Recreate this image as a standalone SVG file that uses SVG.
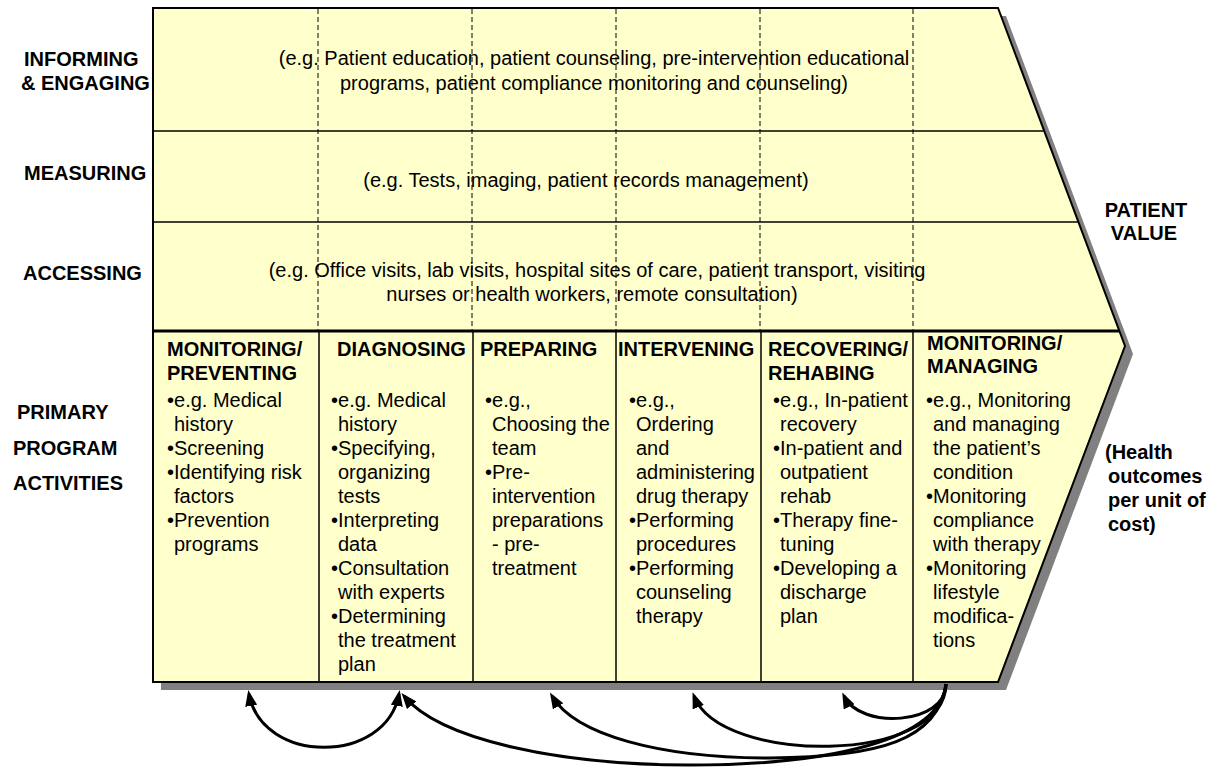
<svg xmlns="http://www.w3.org/2000/svg" width="1215" height="767" viewBox="0 0 1215 767">
<defs>
<style>
text{font-family:"Liberation Sans",Arial,sans-serif;font-size:20px;fill:#000}
.b{font-weight:bold}
.row{stroke:#000;stroke-width:1.5;fill:none}
.dash{stroke:#000;stroke-width:1;stroke-dasharray:5,3;fill:none}
.div{stroke:#000;stroke-width:1.5;fill:none}
.arr{stroke:#000;stroke-width:3;fill:none;marker-end:url(#ah)}
</style>
<marker id="ah" viewBox="0 0 16 12" refX="12" refY="6" markerWidth="16" markerHeight="12" markerUnits="userSpaceOnUse" orient="auto-start-reverse">
<path d="M0,0 L16,6 L0,12 Z" fill="#000"/>
</marker>
</defs>
<rect width="1215" height="767" fill="#fff"/>

<g id="chain-shape">
<polygon points="161,16 1006,16 1133,354 1006,690 161,690" fill="#808080"/>
<polygon points="153,8 998,8 1125,346 998,682 153,682" fill="#FFFFCC" stroke="#000" stroke-width="2"/>
<line class="row" x1="153" y1="131" x2="1045" y2="131"/>
<line class="row" x1="153" y1="222" x2="1078" y2="222"/>
<line class="dash" x1="318" y1="9" x2="318" y2="330"/>
<line class="dash" x1="472" y1="9" x2="472" y2="330"/>
<line class="dash" x1="616" y1="9" x2="616" y2="330"/>
<line class="dash" x1="760" y1="9" x2="760" y2="330"/>
<line class="dash" x1="913" y1="9" x2="913" y2="330"/>
<line x1="153" y1="331" x2="1119" y2="331" stroke="#000" stroke-width="3"/>
<line class="div" x1="319" y1="331" x2="319" y2="682"/>
<line class="div" x1="473" y1="331" x2="473" y2="682"/>
<line class="div" x1="616" y1="331" x2="616" y2="682"/>
<line class="div" x1="761" y1="331" x2="761" y2="682"/>
<line class="div" x1="913" y1="331" x2="913" y2="682"/>
</g>

<g id="support-labels">
<text class="b"><tspan x="24" y="66">INFORMING</tspan><tspan x="21" y="90">&amp; ENGAGING</tspan></text>
<text class="b" x="24" y="180">MEASURING</text>
<text class="b" x="23" y="280">ACCESSING</text>
<text class="b"><tspan x="17" y="419">PRIMARY</tspan><tspan x="13" y="455">PROGRAM</tspan><tspan x="13" y="490">ACTIVITIES</tspan></text>
</g>

<g id="row-informing">
<text text-anchor="middle"><tspan x="594" y="65">(e.g. Patient education, patient counseling, pre-intervention educational</tspan><tspan x="594" y="90">programs, patient compliance monitoring and counseling)</tspan></text>
</g>
<g id="row-measuring">
<text text-anchor="middle" x="586" y="187">(e.g. Tests, imaging, patient records management)</text>
</g>
<g id="row-accessing">
<text text-anchor="middle"><tspan x="597" y="277">(e.g. Office visits, lab visits, hospital sites of care, patient transport, visiting</tspan><tspan x="592" y="301">nurses or health workers, remote consultation)</tspan></text>
</g>

<g id="col-monitoring-preventing">
<text class="b"><tspan x="167" y="356">MONITORING/</tspan><tspan x="167" y="380">PREVENTING</tspan></text>
<text><tspan x="167" y="407">•e.g. Medical</tspan><tspan x="174" y="431">history</tspan><tspan x="167" y="455">•Screening</tspan><tspan x="167" y="479">•Identifying risk</tspan><tspan x="174" y="503">factors</tspan><tspan x="167" y="527">•Prevention</tspan><tspan x="174" y="551">programs</tspan></text>
</g>

<g id="col-diagnosing">
<text class="b" x="337" y="356">DIAGNOSING</text>
<text><tspan x="331" y="407">•e.g. Medical</tspan><tspan x="338" y="431">history</tspan><tspan x="331" y="455">•Specifying,</tspan><tspan x="338" y="479">organizing</tspan><tspan x="338" y="503">tests</tspan><tspan x="331" y="527">•Interpreting</tspan><tspan x="338" y="551">data</tspan><tspan x="331" y="575">•Consultation</tspan><tspan x="338" y="599">with experts</tspan><tspan x="331" y="623">•Determining</tspan><tspan x="338" y="647">the treatment</tspan><tspan x="338" y="671">plan</tspan></text>
</g>

<g id="col-preparing">
<text class="b" x="480" y="356">PREPARING</text>
<text><tspan x="485" y="407">•e.g.,</tspan><tspan x="492" y="431">Choosing the</tspan><tspan x="492" y="455">team</tspan><tspan x="485" y="479">•Pre-</tspan><tspan x="492" y="503">intervention</tspan><tspan x="492" y="527">preparations</tspan><tspan x="492" y="551">- pre-</tspan><tspan x="492" y="575">treatment</tspan></text>
</g>

<g id="col-intervening">
<text class="b" x="618" y="356">INTERVENING</text>
<text><tspan x="629" y="407">•e.g.,</tspan><tspan x="636" y="431">Ordering</tspan><tspan x="636" y="455">and</tspan><tspan x="636" y="479">administering</tspan><tspan x="636" y="503">drug therapy</tspan><tspan x="629" y="527">•Performing</tspan><tspan x="636" y="551">procedures</tspan><tspan x="629" y="575">•Performing</tspan><tspan x="636" y="599">counseling</tspan><tspan x="636" y="623">therapy</tspan></text>
</g>

<g id="col-recovering">
<text class="b"><tspan x="768" y="356">RECOVERING/</tspan><tspan x="768" y="380">REHABING</tspan></text>
<text><tspan x="773" y="407">•e.g., In-patient</tspan><tspan x="780" y="431">recovery</tspan><tspan x="773" y="455">•In-patient and</tspan><tspan x="780" y="479">outpatient</tspan><tspan x="780" y="503">rehab</tspan><tspan x="773" y="527">•Therapy fine-</tspan><tspan x="780" y="551">tuning</tspan><tspan x="773" y="575">•Developing a</tspan><tspan x="780" y="599">discharge</tspan><tspan x="780" y="623">plan</tspan></text>
</g>

<g id="col-monitoring-managing">
<text class="b"><tspan x="927" y="350">MONITORING/</tspan><tspan x="927" y="373">MANAGING</tspan></text>
<text><tspan x="926" y="407">•e.g., Monitoring</tspan><tspan x="933" y="431">and managing</tspan><tspan x="933" y="455">the patient’s</tspan><tspan x="933" y="479">condition</tspan><tspan x="926" y="503">•Monitoring</tspan><tspan x="933" y="527">compliance</tspan><tspan x="933" y="551">with therapy</tspan><tspan x="926" y="575">•Monitoring</tspan><tspan x="933" y="599">lifestyle</tspan><tspan x="933" y="623">modifica-</tspan><tspan x="933" y="647">tions</tspan></text>
</g>

<g id="patient-value">
<text class="b" text-anchor="middle"><tspan x="1146" y="217">PATIENT</tspan><tspan x="1144" y="240">VALUE</tspan></text>
<text class="b"><tspan x="1105" y="459">(Health</tspan><tspan x="1108" y="483">outcomes</tspan><tspan x="1108" y="507">per unit of</tspan><tspan x="1108" y="531">cost)</tspan></text>
</g>

<g id="connectors">
<path class="arr" style="marker-start:url(#ah)" d="M249,694 C262,765 386,765 399,694"/>
<path class="arr" d="M946,684 C940,740 830,765 690,765 C560,765 440,740 404,696"/>
<path class="arr" d="M946,684 C938,740 880,757 770,758 C660,758 575,735 552,696"/>
<path class="arr" d="M946,684 C945,765 720,765 694,696"/>
<path class="arr" d="M946,684 C946,725 860,730 844,696"/>
</g>
</svg>
